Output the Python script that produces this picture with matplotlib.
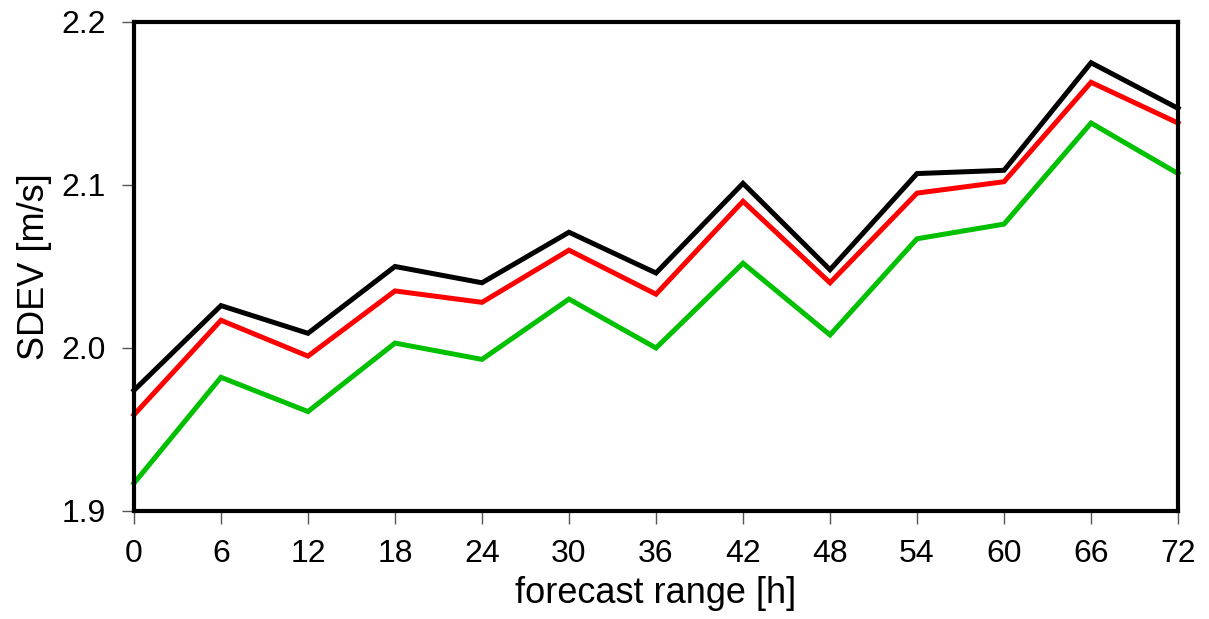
import matplotlib
matplotlib.use("Agg")
import matplotlib.pyplot as plt

# forecast lead times [h]
lead = [0, 6, 12, 18, 24, 30, 36, 42, 48, 54, 60, 66, 72]

sdev_black = [1.974, 2.026, 2.009, 2.050, 2.040, 2.071, 2.046, 2.101, 2.048, 2.107, 2.109, 2.175, 2.147]
sdev_red = [1.959, 2.017, 1.995, 2.035, 2.028, 2.060, 2.033, 2.090, 2.040, 2.095, 2.102, 2.163, 2.138]
sdev_green = [1.917, 1.982, 1.961, 2.003, 1.993, 2.030, 2.000, 2.052, 2.008, 2.067, 2.076, 2.138, 2.107]

yticks = [1.9, 2.0, 2.1, 2.2]

plt.rcParams['font.family'] = ['Liberation Sans', 'DejaVu Sans']

fig = plt.figure(figsize=(12.09, 6.19), dpi=100)
ax = fig.add_axes([0.1108, 0.1745, 0.8636, 0.79])

ax.plot(lead, sdev_black, color='black', lw=3.6, solid_joinstyle='miter', clip_on=False, zorder=3)
ax.plot(lead, sdev_red, color='#ff0000', lw=3.6, solid_joinstyle='miter', clip_on=False, zorder=3)
ax.plot(lead, sdev_green, color='#00c000', lw=3.6, solid_joinstyle='miter', clip_on=False, zorder=3)

ax.set_xlim(0, 72)
ax.set_ylim(1.9, 2.2)
ax.set_xticks(lead)
ax.set_yticks(yticks)
ax.set_yticklabels(["%.1f" % v for v in yticks])

for s in ax.spines.values():
    s.set_linewidth(3.0)
    s.set_zorder(4)

ax.tick_params(direction='out', length=9, width=1, color='#555555', labelsize=23)
ax.tick_params(axis='x', pad=11)
ax.tick_params(axis='y', pad=11)
ax.set_xlabel("forecast range [h]", fontsize=26, labelpad=5)
ax.set_ylabel("SDEV [m/s]", fontsize=26, labelpad=7)

fig.savefig("out.png", dpi=100)
